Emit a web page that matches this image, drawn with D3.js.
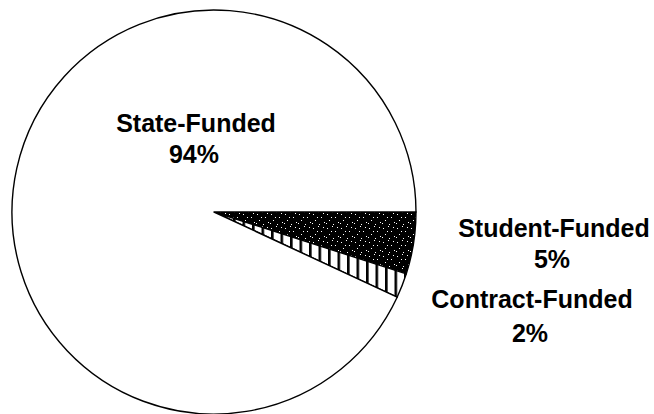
<!DOCTYPE html>
<html>
<head>
<meta charset="utf-8">
<script src="https://cdn.jsdelivr.net/npm/d3@7"></script>
<style>
  html, body { margin: 0; padding: 0; background: #fff; }
  svg { display: block; }
  text { font-family: "Liberation Sans", Arial, Helvetica, sans-serif; font-weight: bold; fill: #000; }
</style>
</head>
<body>
<svg id="chart" width="654" height="414"></svg>
<script>
// Funding sources and their shares (percent)
const categories = ["Student-Funded", "Contract-Funded", "State-Funded"];
const shares = [5, 2, 94];
const valueLabels = ["5%", "2%", "94%"];

// Label placement (layout only)
const labelPos = [
  { x: 554, y: 237, dy: 31 },
  { x: 532, y: 308, dy: 34 },
  { x: 196, y: 132, dy: 31 }
];
const fills = ["url(#stipple)", "url(#stripes)", "#fff"];

const svg = d3.select("#chart");
const cx = 214, cy = 212, r = 202;

// Fill patterns
const defs = svg.append("defs");
const stipple = defs.append("pattern")
  .attr("id", "stipple").attr("patternUnits", "userSpaceOnUse")
  .attr("width", 14).attr("height", 14);
stipple.append("rect").attr("width", 14).attr("height", 14).attr("fill", "#000");
[[1,2],[6,0],[9,5],[3,8],[12,10],[7,12],[0,11],[11,1],[5,5]].forEach(([x, y]) =>
  stipple.append("rect").attr("x", x).attr("y", y).attr("width", 1).attr("height", 1).attr("fill", "#fff"));

const stripes = defs.append("pattern")
  .attr("id", "stripes").attr("patternUnits", "userSpaceOnUse")
  .attr("width", 9.5).attr("height", 10);
stripes.append("rect").attr("width", 9.5).attr("height", 10).attr("fill", "#fff");
stripes.append("rect").attr("x", 0).attr("width", 2.6).attr("height", 10).attr("fill", "#000");

const pie = d3.pie().sort(null)
  .startAngle(Math.PI / 2).endAngle(Math.PI / 2 + 2 * Math.PI);
const arcs = pie(shares);
const arc = d3.arc().innerRadius(0).outerRadius(r);

const g = svg.append("g").attr("transform", `translate(${cx},${cy})`);
g.selectAll("path.slice").data(arcs).join("path")
  .attr("class", "slice")
  .attr("d", arc)
  .attr("fill", (d, i) => fills[i])
  .attr("stroke", "#000")
  .attr("stroke-width", 1.4)
  .attr("stroke-linejoin", "round");

// Labels
const lab = svg.append("g").attr("text-anchor", "middle").style("font-size", "25px");
categories.forEach((c, i) => {
  lab.append("text").attr("x", labelPos[i].x).attr("y", labelPos[i].y).text(c);
  lab.append("text").attr("x", labelPos[i].x - 2).attr("y", labelPos[i].y + labelPos[i].dy).text(valueLabels[i]);
});
</script>
</body>
</html>
